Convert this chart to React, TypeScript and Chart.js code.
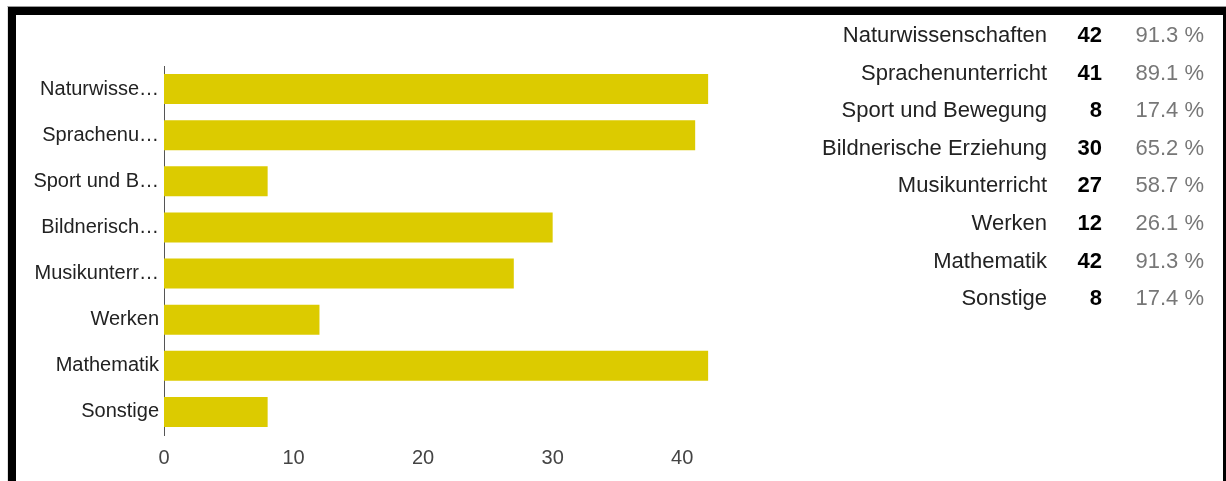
import React, { useEffect, useRef } from "react";
import { Chart, registerables } from "chart.js";

Chart.register(...registerables);

const categories = [
  "Naturwissenschaften",
  "Sprachenunterricht",
  "Sport und Bewegung",
  "Bildnerische Erziehung",
  "Musikunterricht",
  "Werken",
  "Mathematik",
  "Sonstige",
];
const axisLabels = [
  "Naturwisse…",
  "Sprachenu…",
  "Sport und B…",
  "Bildnerisch…",
  "Musikunterr…",
  "Werken",
  "Mathematik",
  "Sonstige",
];
const counts = [42, 41, 8, 30, 27, 12, 42, 8];
const percents = ["91.3 %", "89.1 %", "17.4 %", "65.2 %", "58.7 %", "26.1 %", "91.3 %", "17.4 %"];
const xTicks = [0, 10, 20, 30, 40];
const xMax = 45;

const FONT = "'Liberation Sans', Arial, Helvetica, sans-serif";

export default function App() {
  const canvasRef = useRef<HTMLCanvasElement | null>(null);

  useEffect(() => {
    const canvas = canvasRef.current;
    if (!canvas) return;
    const chart = new Chart(canvas, {
      type: "bar",
      data: {
        labels: axisLabels,
        datasets: [
          {
            data: counts,
            backgroundColor: "#dccb00",
            borderWidth: 0,
            categoryPercentage: 1,
            barPercentage: 30 / 46,
          },
        ],
      },
      options: {
        indexAxis: "y",
        responsive: false,
        animation: false,
        devicePixelRatio: 1,
        layout: { padding: { top: 66, left: 0, right: 83, bottom: 0 } },
        plugins: {
          legend: { display: false },
          tooltip: { enabled: false },
        },
        scales: {
          x: {
            min: 0,
            max: xMax,
            ticks: {
              stepSize: 10,
              padding: 11,
              color: "#444",
              font: { family: FONT, size: 20 },
              maxRotation: 0,
            },
            grid: { display: false, drawTicks: false },
            border: { display: false },
            afterBuildTicks: (scale: any) => {
              scale.ticks = scale.ticks.filter((t: any) => xTicks.includes(t.value));
            },
            afterFit: (scale: any) => {
              scale.height = 46;
            },
          },
          y: {
            ticks: {
              padding: 5,
              color: "#222",
              font: { family: FONT, size: 20 },
              autoSkip: false,
            },
            grid: { display: false, drawTicks: false },
            border: { display: true, color: "#555", width: 1 },
            afterFit: (scale: any) => {
              scale.width = 164;
            },
          },
        },
      },
    });
    return () => chart.destroy();
  }, []);

  return (
    <div
      style={{
        position: "fixed",
        left: 0,
        top: 0,
        width: 1226,
        height: 481,
        overflow: "hidden",
        background: "#fff",
        fontFamily: FONT,
      }}
    >
      <div
        style={{
          position: "absolute",
          left: 7,
          top: 6,
          width: 1219,
          height: 475,
          borderTop: "1px solid #9a9a9a",
          borderLeft: "1px solid #e0e0e0",
          boxSizing: "border-box",
        }}
      />
      <div
        style={{
          position: "absolute",
          left: 8,
          top: 7,
          width: 1218,
          height: 474,
          borderTop: "8px solid #000",
          borderLeft: "8px solid #000",
          borderRight: "3px solid #000",
          boxSizing: "border-box",
        }}
      />
      <canvas
        ref={canvasRef}
        width={830}
        height={481}
        style={{ position: "absolute", left: 0, top: 0, width: 830, height: 481 }}
      />
      <div style={{ position: "absolute", left: 0, top: 16, width: 1226 }}>
        {categories.map((c, i) => (
          <div key={c} style={{ position: "relative", height: 37.6, lineHeight: "37.6px", fontSize: 22 }}>
            <span style={{ position: "absolute", right: 1226 - 1047, color: "#222", whiteSpace: "nowrap" }}>{c}</span>
            <span style={{ position: "absolute", right: 1226 - 1102, color: "#000", fontWeight: "bold" }}>{counts[i]}</span>
            <span style={{ position: "absolute", right: 1226 - 1204, color: "#777", whiteSpace: "nowrap" }}>{percents[i]}</span>
          </div>
        ))}
      </div>
    </div>
  );
}
